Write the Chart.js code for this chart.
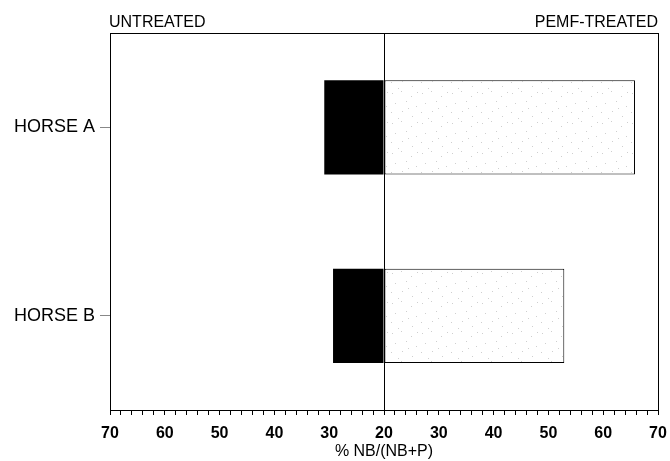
<!DOCTYPE html>
<html>
<head>
<meta charset="utf-8">
<script src="https://cdn.jsdelivr.net/npm/chart.js@4"></script>
<style>
    body { margin: 0; background: #fff; }
    #wrap { position: relative; width: 670px; height: 461px; font-family: "Liberation Sans", Arial, sans-serif; }
    .side-label { position: absolute; top: 13px; font-size: 16px; color: #000; }
    #left-label { left: 109px; }
    #right-label { right: 12px; }
</style>
</head>
<body>
<div id="wrap">
    <canvas id="horse-chart" width="670" height="461"></canvas>
    <div class="side-label" id="left-label">UNTREATED</div>
    <div class="side-label" id="right-label">PEMF-TREATED</div>
</div>
<script>
// values, in % NB/(NB+P)
const categories = ['HORSE A', 'HORSE B'];
const untreatedValues = [30.9, 29.3];
const treatedValues = [65.8, 52.9];
const baseline = 20;   // centre line of the axis
const axisEnd = 70;    // value at both ends of the axis

// light stipple for the treated bars
function makeStipple() {
    let c = document.createElement('canvas');
    c.width = 30;
    c.height = 30;
    let g = c.getContext('2d');
    g.fillStyle = '#fff';
    g.fillRect(0, 0, 30, 30);
    g.fillStyle = '#cfcfcf';
    const dots = [[2, 3], [11, 1], [21, 6], [5, 13], [16, 11], [26, 16], [1, 22], [12, 21], [22, 26], [8, 28], [18, 18], [27, 2]];
    dots.forEach(d => g.fillRect(d[0], d[1], 1, 1));
    return g.createPattern(c, 'repeat');
}

const framePlugin = {
    id: 'frame',
    afterDraw(chart) {
        const a = chart.chartArea;
        const ctx = chart.ctx;
        ctx.save();
        ctx.strokeStyle = '#000';
        ctx.lineWidth = 1;
        ctx.strokeRect(Math.round(a.left) + 0.5, Math.round(a.top) + 0.5, Math.round(a.right - a.left), Math.round(a.bottom - a.top));
        ctx.restore();
    }
};

const span = axisEnd - baseline;

const ctx = document.getElementById('horse-chart').getContext('2d');
const horseChart = new Chart(ctx, {
    type: 'bar',
    data: {
        labels: categories,
        datasets: [{
            label: 'Untreated',
            data: untreatedValues.map(v => [-(v - baseline), 0]),
            backgroundColor: '#000',
            borderWidth: 0
        }, {
            label: 'PEMF-treated',
            data: treatedValues.map(v => [0, v - baseline]),
            backgroundColor: makeStipple(),
            borderColor: '#000',
            borderWidth: 1,
            borderSkipped: false
        }]
    },
    options: {
        indexAxis: 'y',
        responsive: false,
        devicePixelRatio: 1,
        animation: false,
        grouped: false,
        barPercentage: 1,
        categoryPercentage: 0.5,
        layout: {
            padding: { top: 33, right: 12, bottom: 0, left: 0 }
        },
        scales: {
            x: {
                min: -span,
                max: span,
                afterFit: (scale) => {
                    scale.height = 51;
                    scale.paddingLeft = 0;
                    scale.paddingRight = 0;
                },
                ticks: {
                    stepSize: 2,
                    autoSkip: false,
                    maxRotation: 0,
                    color: '#000',
                    padding: 9,
                    font: { family: 'Liberation Sans', size: 16, weight: 'bold' },
                    callback: (v) => (v % 10 === 0 ? String(Math.abs(v) + baseline) : '')
                },
                grid: {
                    drawOnChartArea: true,
                    color: (c) => (c.tick && c.tick.value === 0 ? '#000' : 'rgba(0,0,0,0)'),
                    tickColor: '#000',
                    tickLength: 5,
                    lineWidth: 1
                },
                border: { display: true, color: '#000' },
                title: {
                    display: true,
                    text: '% NB/(NB+P)',
                    color: '#000',
                    padding: { top: 0, bottom: 0 },
                    font: { family: 'Liberation Sans', size: 16 }
                }
            },
            y: {
                afterFit: (scale) => { scale.width = 110; },
                ticks: {
                    color: '#000',
                    padding: 5,
                    font: { family: 'Liberation Sans', size: 18 }
                },
                grid: {
                    offset: false,
                    drawOnChartArea: false,
                    tickColor: '#888',
                    tickLength: 10
                },
                border: { display: true, color: '#000' }
            }
        },
        plugins: {
            legend: { display: false },
            tooltip: { enabled: false }
        }
    },
    plugins: [framePlugin]
});
</script>
</body>
</html>
